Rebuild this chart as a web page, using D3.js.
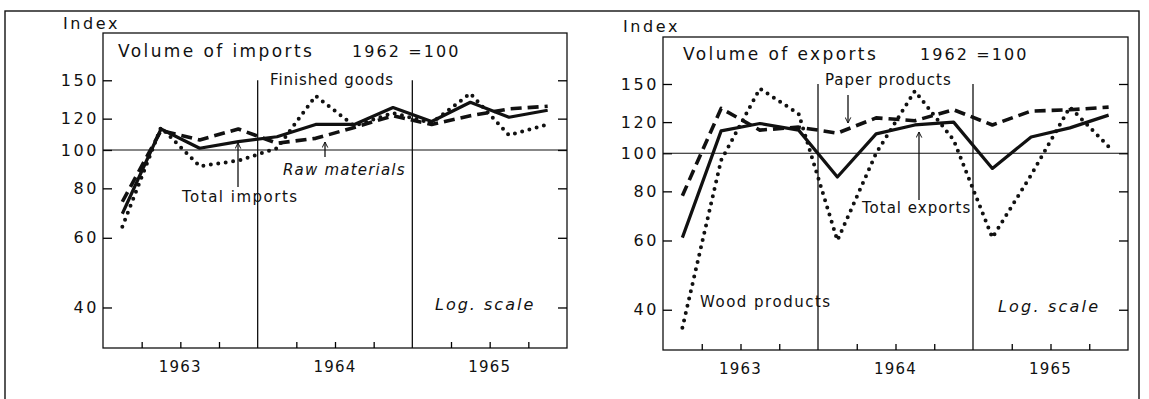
<!DOCTYPE html>
<html>
<head>
<meta charset="utf-8">
<script src="https://cdn.jsdelivr.net/npm/d3@7"></script>
<style>
  body { margin: 0; background: #fff; }
  svg text { font-family: "DejaVu Sans", sans-serif; fill: #111; }
</style>
</head>
<body>
<svg id="chart" width="1149" height="399"></svg>
<script>
const quarters = ["1963 I", "1963 II", "1963 III", "1963 IV",
  "1964 I", "1964 II", "1964 III", "1964 IV",
  "1965 I", "1965 II", "1965 III", "1965 IV"];
const years = ["1963", "1964", "1965"];
const yTicks = [40, 60, 80, 100, 120, 150];

// volume of imports, 1962 = 100
const totalImports = [69, 113, 101, 105, 108, 116, 116, 128, 118, 132, 121, 126];
const rawMaterials = [74, 112, 106, 113, 104, 107, 114, 122, 116, 122, 127, 129];
const finishedGoods = [64, 114, 91, 94, 101, 137, 115, 124, 117, 139, 109, 116];

// volume of exports, 1962 = 100
const totalExports = [61, 114, 119, 114.5, 87, 112, 118, 120, 91.5, 110, 116, 125];
const paperProducts = [78, 130, 114.5, 116.5, 112.5, 123, 121, 129, 118, 128, 129, 131];
const woodProducts = [36, 96, 146, 126, 60, 100, 144, 108, 61, 88, 131, 104];

const styles = {
  solid: { width: 3.2, dash: null, cap: "butt" },
  dashed: { width: 3.6, dash: "11,6", cap: "butt" },
  dotted: { width: 4, dash: "0,7.5", cap: "round" },
};

const svg = d3.select("#chart");

svg.append("defs")
  .append("marker")
  .attr("id", "arr")
  .attr("viewBox", "0 0 10 10")
  .attr("refX", 9)
  .attr("refY", 5)
  .attr("markerWidth", 7)
  .attr("markerHeight", 7)
  .attr("markerUnits", "userSpaceOnUse")
  .attr("orient", "auto")
  .append("path")
  .attr("d", "M1,1 L9,5 L1,9")
  .attr("fill", "none")
  .attr("stroke", "#111")
  .attr("stroke-width", 1.4);

// outer frame
svg.append("rect")
  .attr("x", 5).attr("y", 11)
  .attr("width", 1134).attr("height", 400)
  .attr("fill", "none").attr("stroke", "#111").attr("stroke-width", 1.4);

const panels = [
  {
    left: 103, top: 33, width: 464, height: 315,
    series: [
      { values: rawMaterials, style: "dashed" },
      { values: finishedGoods, style: "dotted" },
      { values: totalImports, style: "solid" },
    ],
    labels: [
      { text: "Index", x: -40, y: -4, size: 16, ls: 2.6 },
      { text: "Volume of imports", x: 15, y: 24, size: 17, ls: 2.4 },
      { text: "1962 =100", x: 249, y: 24, size: 16, ls: 2.1 },
      { text: "Finished goods", x: 167, y: 52, size: 15, ls: 0.9 },
      { text: "Raw materials", x: 180, y: 142, size: 15, ls: 1.2, italic: true },
      { text: "Total imports", x: 79, y: 169, size: 15, ls: 1.5 },
      { text: "Log. scale", x: 332, y: 277, size: 16, ls: 2, italic: true },
    ],
    arrows: [
      { x: 135, y1: 154, y2: 110 },
      { x: 222, y1: 124, y2: 109 },
    ],
  },
  {
    left: 663, top: 37, width: 465, height: 313,
    series: [
      { values: paperProducts, style: "dashed" },
      { values: woodProducts, style: "dotted" },
      { values: totalExports, style: "solid" },
    ],
    labels: [
      { text: "Index", x: -40, y: -5, size: 16, ls: 2.6 },
      { text: "Volume of exports", x: 20, y: 23, size: 17, ls: 2.4 },
      { text: "1962 =100", x: 257, y: 23, size: 16, ls: 2.1 },
      { text: "Paper products", x: 162, y: 48, size: 15, ls: 1 },
      { text: "Total exports", x: 199, y: 176, size: 15, ls: 1 },
      { text: "Wood products", x: 37, y: 270, size: 15, ls: 1.5 },
      { text: "Log. scale", x: 335, y: 275, size: 16, ls: 2.2, italic: true },
    ],
    arrows: [
      { x: 185, y1: 58, y2: 86 },
      { x: 256, y1: 163, y2: 95 },
    ],
  },
];

panels.forEach((p) => {
  const g = svg.append("g").attr("transform", `translate(${p.left},${p.top})`);
  const w = p.width, h = p.height;

  const x = d3.scaleLinear().domain([0, quarters.length]).range([0, w]);
  const y = d3.scaleLog().domain([31.6, 197.5]).range([h, 0]);

  // frame
  g.append("rect")
    .attr("width", w).attr("height", h)
    .attr("fill", "none").attr("stroke", "#111").attr("stroke-width", 1.3);

  g.append("g")
    .call(d3.axisLeft(y).tickValues(yTicks).tickFormat(d3.format("d"))
      .tickSize(-9).tickSizeOuter(0).tickPadding(4))
    .call((a) => a.select(".domain").remove())
    .call((a) => a.selectAll("line").attr("stroke-width", 1.3))
    .call((a) => a.selectAll("text")
      .style("font-family", "DejaVu Sans").style("font-size", "16px")
      .attr("letter-spacing", 2.6).attr("fill", "#111"));

  g.append("g")
    .attr("transform", `translate(${w},0)`)
    .call(d3.axisRight(y).tickValues(yTicks).tickFormat("").tickSize(-9).tickSizeOuter(0))
    .call((a) => a.select(".domain").remove())
    .call((a) => a.selectAll("line").attr("stroke-width", 1.3));

  const qTicks = d3.range(1, quarters.length).filter((i) => i % 4 !== 0);
  g.append("g")
    .attr("transform", `translate(0,${h})`)
    .call(d3.axisBottom(x).tickValues(qTicks).tickFormat("").tickSize(-6).tickSizeOuter(0))
    .call((a) => a.select(".domain").remove())
    .call((a) => a.selectAll("line").attr("stroke-width", 1.3));

  // 100 reference line
  g.append("line")
    .attr("x1", 0).attr("x2", w)
    .attr("y1", y(100)).attr("y2", y(100))
    .attr("stroke", "#111").attr("stroke-width", 1.2);

  // year separators
  g.selectAll(".sep")
    .data(d3.range(1, years.length))
    .enter().append("line")
    .attr("x1", (d) => x(d * 4)).attr("x2", (d) => x(d * 4))
    .attr("y1", y(150)).attr("y2", h)
    .attr("stroke", "#111").attr("stroke-width", 1.3);

  g.selectAll(".year")
    .data(years)
    .enter().append("text")
    .attr("x", (d, i) => x(i * 4 + 2))
    .attr("y", h + 24)
    .attr("text-anchor", "middle")
    .style("font-size", "15px")
    .attr("letter-spacing", 1.2)
    .text((d) => d);

  const line = d3.line()
    .x((d, i) => x(i + 0.5))
    .y((d) => y(d));

  p.series.forEach((s) => {
    const st = styles[s.style];
    g.append("path")
      .datum(s.values)
      .attr("fill", "none")
      .attr("stroke", "#111")
      .attr("stroke-width", st.width)
      .attr("stroke-linecap", st.cap)
      .attr("stroke-linejoin", "round")
      .attr("stroke-dasharray", st.dash)
      .attr("d", line);
  });

  g.selectAll(".lbl")
    .data(p.labels)
    .enter().append("text")
    .attr("x", (d) => d.x)
    .attr("y", (d) => d.y)
    .style("font-size", (d) => d.size + "px")
    .style("font-style", (d) => (d.italic ? "italic" : "normal"))
    .attr("letter-spacing", (d) => d.ls)
    .text((d) => d.text);

  g.selectAll(".arrow")
    .data(p.arrows)
    .enter().append("line")
    .attr("x1", (d) => d.x).attr("x2", (d) => d.x)
    .attr("y1", (d) => d.y1).attr("y2", (d) => d.y2)
    .attr("stroke", "#111").attr("stroke-width", 1.3)
    .attr("marker-end", "url(#arr)");
});
</script>
</body>
</html>
